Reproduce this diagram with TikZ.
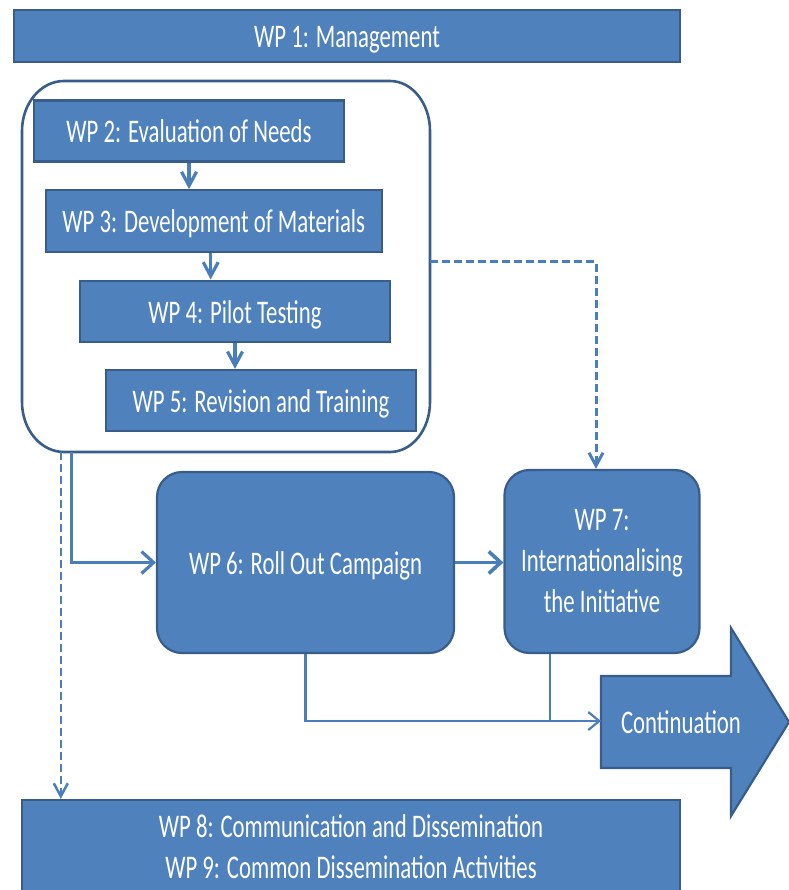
\documentclass[tikz,border=0pt]{standalone}
\usepackage{fontspec}
\setmainfont{Carlito}[FakeStretch=0.69]
\usetikzlibrary{arrows.meta}
\definecolor{wpfill}{HTML}{4F81BD}
\definecolor{wpline}{HTML}{385D8A}
\definecolor{conncol}{HTML}{4A7EBB}
\begin{document}
\begin{tikzpicture}[x=1pt,y=-1pt,
  wp/.style={draw=wpline, line width=2.2pt, fill=wpfill, text=white, inner sep=0pt,
             font=\fontsize{33}{41}\selectfont, align=center},
  oneline/.style={text height=24pt, text depth=0pt},
  vhead/.style={-{Straight Barb[length=14pt,width=15pt]}},
  hhead/.style={-{Straight Barb[length=12pt,width=22pt]}},
  conn/.style={draw=conncol, line width=3.2pt},
  dashconn/.style={draw=conncol, line width=3pt, dash pattern=on 8pt off 4pt},
  thinconn/.style={draw=conncol, line width=2.2pt},
  grpline/.style={draw=wpline, line width=2.6pt, fill=white}]
\useasboundingbox (0,0) rectangle (788,890);

% WP1
\node[wp, oneline, minimum width=666pt, minimum height=52pt] (wp1) at (347,36) {WP 1: Management};

% group frame
\node[minimum width=408pt, minimum height=371pt, inner sep=0pt] (grp) at (226,266.5) {};
\draw[grpline] (64,81) -- (390,81) .. controls (412.1,81) and (430,103.4) .. (430,131)
  -- (430,402) .. controls (430,429.6) and (412.1,452) .. (390,452)
  -- (64,452) .. controls (40.8,452) and (22,429.6) .. (22,402)
  -- (22,131) .. controls (22,103.4) and (40.8,81) .. cycle;

% WP2-5
\node[wp, oneline, minimum width=310pt, minimum height=61pt] (wp2) at (189,131) {WP 2: Evaluation of Needs};
\node[wp, oneline, minimum width=336pt, minimum height=61.5pt] (wp3) at (213.7,221) {WP 3: Development of Materials};
\node[wp, oneline, minimum width=310pt, minimum height=61.3pt] (wp4) at (235,311.3) {WP 4: Pilot Testing};
\node[wp, oneline, minimum width=310pt, minimum height=61pt] (wp5) at (261,400.5) {WP 5: Revision and Training};

% WP6, WP7
\node[wp, oneline, rounded corners=25pt, minimum width=297pt, minimum height=181pt] (wp6) at (305.5,562.5) {WP 6: Roll Out Campaign};
\node[wp, rounded corners=25pt, minimum width=195pt, minimum height=183pt] (wp7) at (602,561.5) {WP 7:\\Internationalising\\the Initiative};

% WP8
\node[wp, minimum width=658pt, minimum height=93pt] (wp8) at (351,846.5) {WP 8: Communication and Dissemination\\WP 9: Common Dissemination Activities};

% Continuation block arrow
\draw[draw=wpline, line width=2.2pt, fill=wpfill, line join=miter]
  (601,676) -- (731,676) -- (731,628) -- (789,722) -- (731,816) -- (731,768) -- (601,768) -- cycle;
\node[text=white, font=\fontsize{33}{41}\selectfont, inner sep=0pt] (cont) at (681,722) {Continuation};
\coordinate (ctail) at (601,721);

% connectors inside the group
\draw[conn, vhead] (wp2.south) -- (wp2.south |- wp3.north);
\draw[conn, vhead] ([xshift=-3pt]wp3.south) coordinate (a34) -- (a34 |- wp4.north);
\draw[conn, vhead] (wp4.south) -- (wp4.south |- wp5.north);

% dashed connectors
\draw[dashconn, -{Straight Barb[length=13pt,width=14pt]}] ([yshift=4.5pt]grp.east) -| ([xshift=-6pt]wp7.north);
\draw[dashconn, line width=2.5pt, -{Straight Barb[length=13pt,width=14pt]}] ([xshift=39pt]grp.south west) coordinate (d8) -- (d8 |- wp8.north);

% solid connectors
\draw[conn, hhead] ([xshift=50pt]grp.south west) |- (wp6.west);
\draw[conn, line width=3.6pt, hhead] (wp6.east) -- (wp6.east -| wp7.west);

% thin lines to Continuation
\draw[thinconn, -{Straight Barb[length=11pt,width=18pt]}] (wp6.south) |- (ctail);
\draw[thinconn] ([xshift=-52pt]wp7.south) |- (ctail);
\end{tikzpicture}
\end{document}
